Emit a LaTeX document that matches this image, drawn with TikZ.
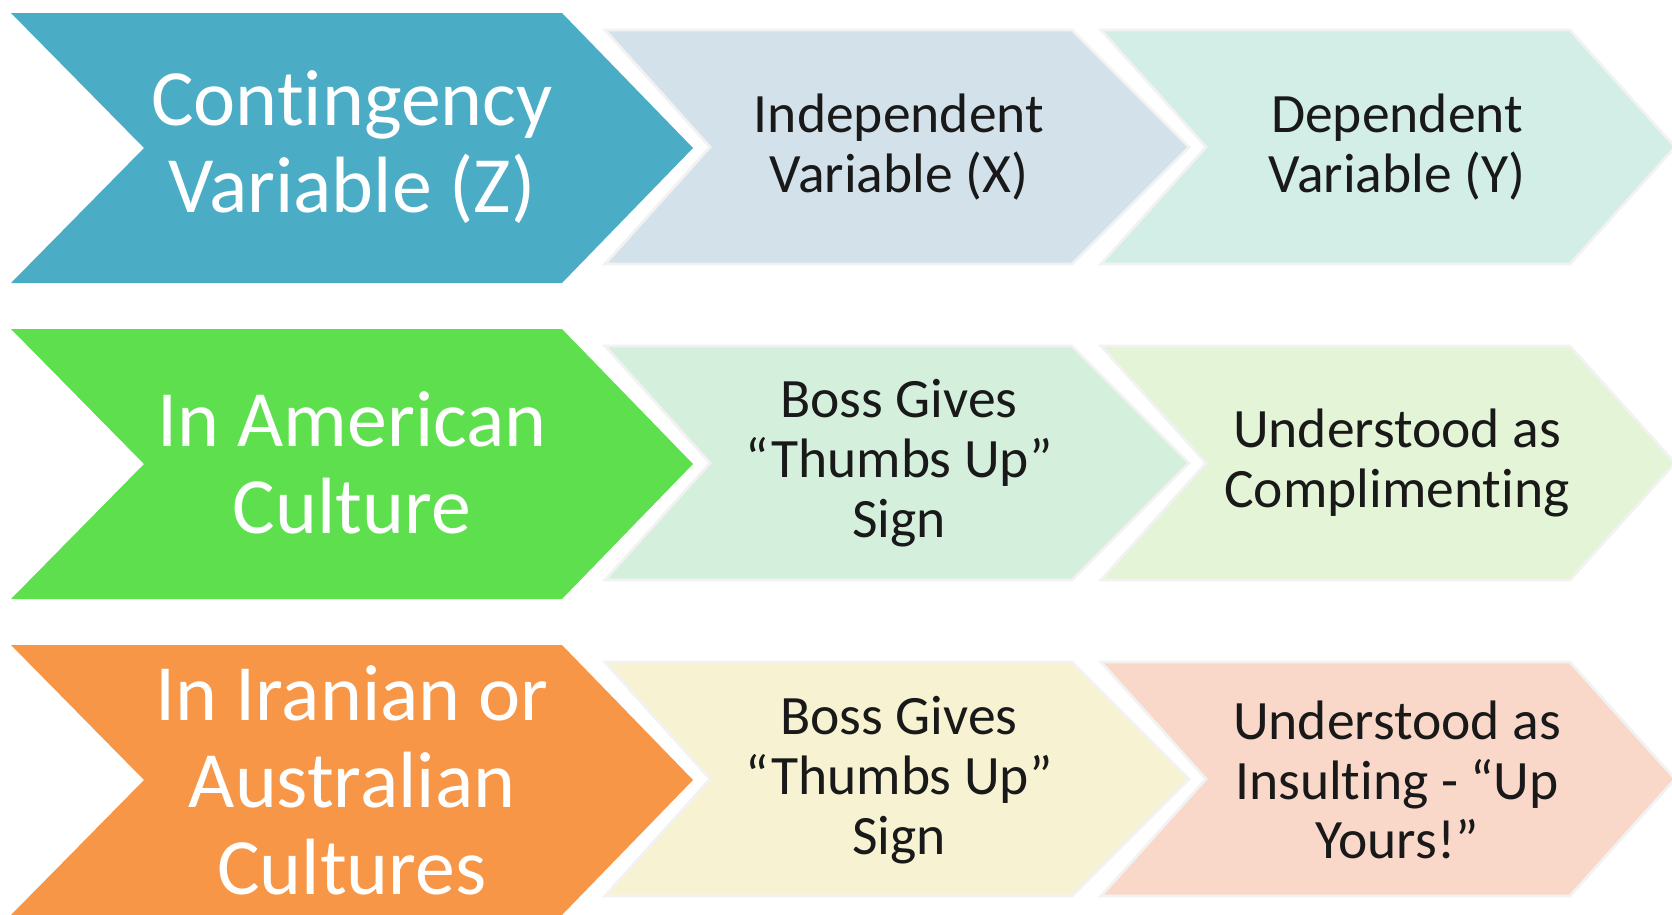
\documentclass[tikz,border=0pt]{standalone}
\usepackage{fontspec}
\setmainfont{Carlito}[Ligatures={NoCommon}]

\definecolor{ztealfill}{RGB}{75,172,198}
\definecolor{zgreenfill}{RGB}{94,224,78}
\definecolor{zorangefill}{RGB}{247,150,70}
\definecolor{xbluefill}{RGB}{211,226,234}
\definecolor{ybluefill}{RGB}{211,238,230}
\definecolor{xgreenfill}{RGB}{212,240,221}
\definecolor{ygreenfill}{RGB}{228,245,215}
\definecolor{xyellowfill}{RGB}{247,243,210}
\definecolor{yredfill}{RGB}{249,216,201}

\begin{document}
\begin{tikzpicture}[x=0.01cm,y=-0.01cm,
  bigtxt/.style={text=white,align=center,font=\fontsize{22.7}{24.7}\selectfont},
  smalltxt/.style={text=black!90,align=center,font=\fontsize{15.8}{17}\selectfont},
  softedge/.style={draw=black!5,line width=0.8pt}]
\useasboundingbox (0,0) rectangle (1672,914);
\clip (0,0) rectangle (1672,914);
%\draw[help lines,step=100] (0,0) grid (1672,914);

% the three rows, 316 apart
\foreach \yy/\zc/\xc/\yc in {0/ztealfill/xbluefill/ybluefill,
                             316/zgreenfill/xgreenfill/ygreenfill,
                             632/zorangefill/xyellowfill/yredfill}{
  % dependent chevron
  \filldraw[softedge,fill=\yc] (1101,{30+\yy}) -- (1570,{30+\yy}) -- (1675,{147+\yy})
    -- (1570,{264+\yy}) -- (1101,{264+\yy}) -- (1206,{147+\yy}) -- cycle;
  % independent chevron
  \filldraw[softedge,fill=\xc] (605,{30+\yy}) -- (1072,{30+\yy}) -- (1189,{147+\yy})
    -- (1072,{264+\yy}) -- (605,{264+\yy}) -- (710,{147+\yy}) -- cycle;
  % contingency chevron
  \fill[\zc] (11,{13+\yy}) -- (562,{13+\yy}) -- (693,{148+\yy})
    -- (562,{283+\yy}) -- (11,{283+\yy}) -- (144,{148+\yy}) -- cycle;
}

\node[bigtxt] (zhead) at (352,147) {Contingency\\Variable (Z)};
\node[smalltxt] (xhead) at (899,147) {Independent\\Variable (X)};
\node[smalltxt] (yhead) at (1397,147) {Dependent\\Variable (Y)};

\node[bigtxt] (zusa) at (352,463) {In American\\Culture};
\node[smalltxt] (xusa) at (899,463) {Boss Gives\\“Thumbs Up”\\Sign};
\node[smalltxt] (yusa) at (1397,463) {Understood as\\Complimenting};

\node[bigtxt] (zirn) at (352,780) {In Iranian or\\Australian\\Cultures};
\node[smalltxt] (xirn) at (899,780) {Boss Gives\\“Thumbs Up”\\Sign};
\node[smalltxt] (yirn) at (1397,780) {Understood as\\Insulting - “Up\\Yours!”};
\end{tikzpicture}
\end{document}
